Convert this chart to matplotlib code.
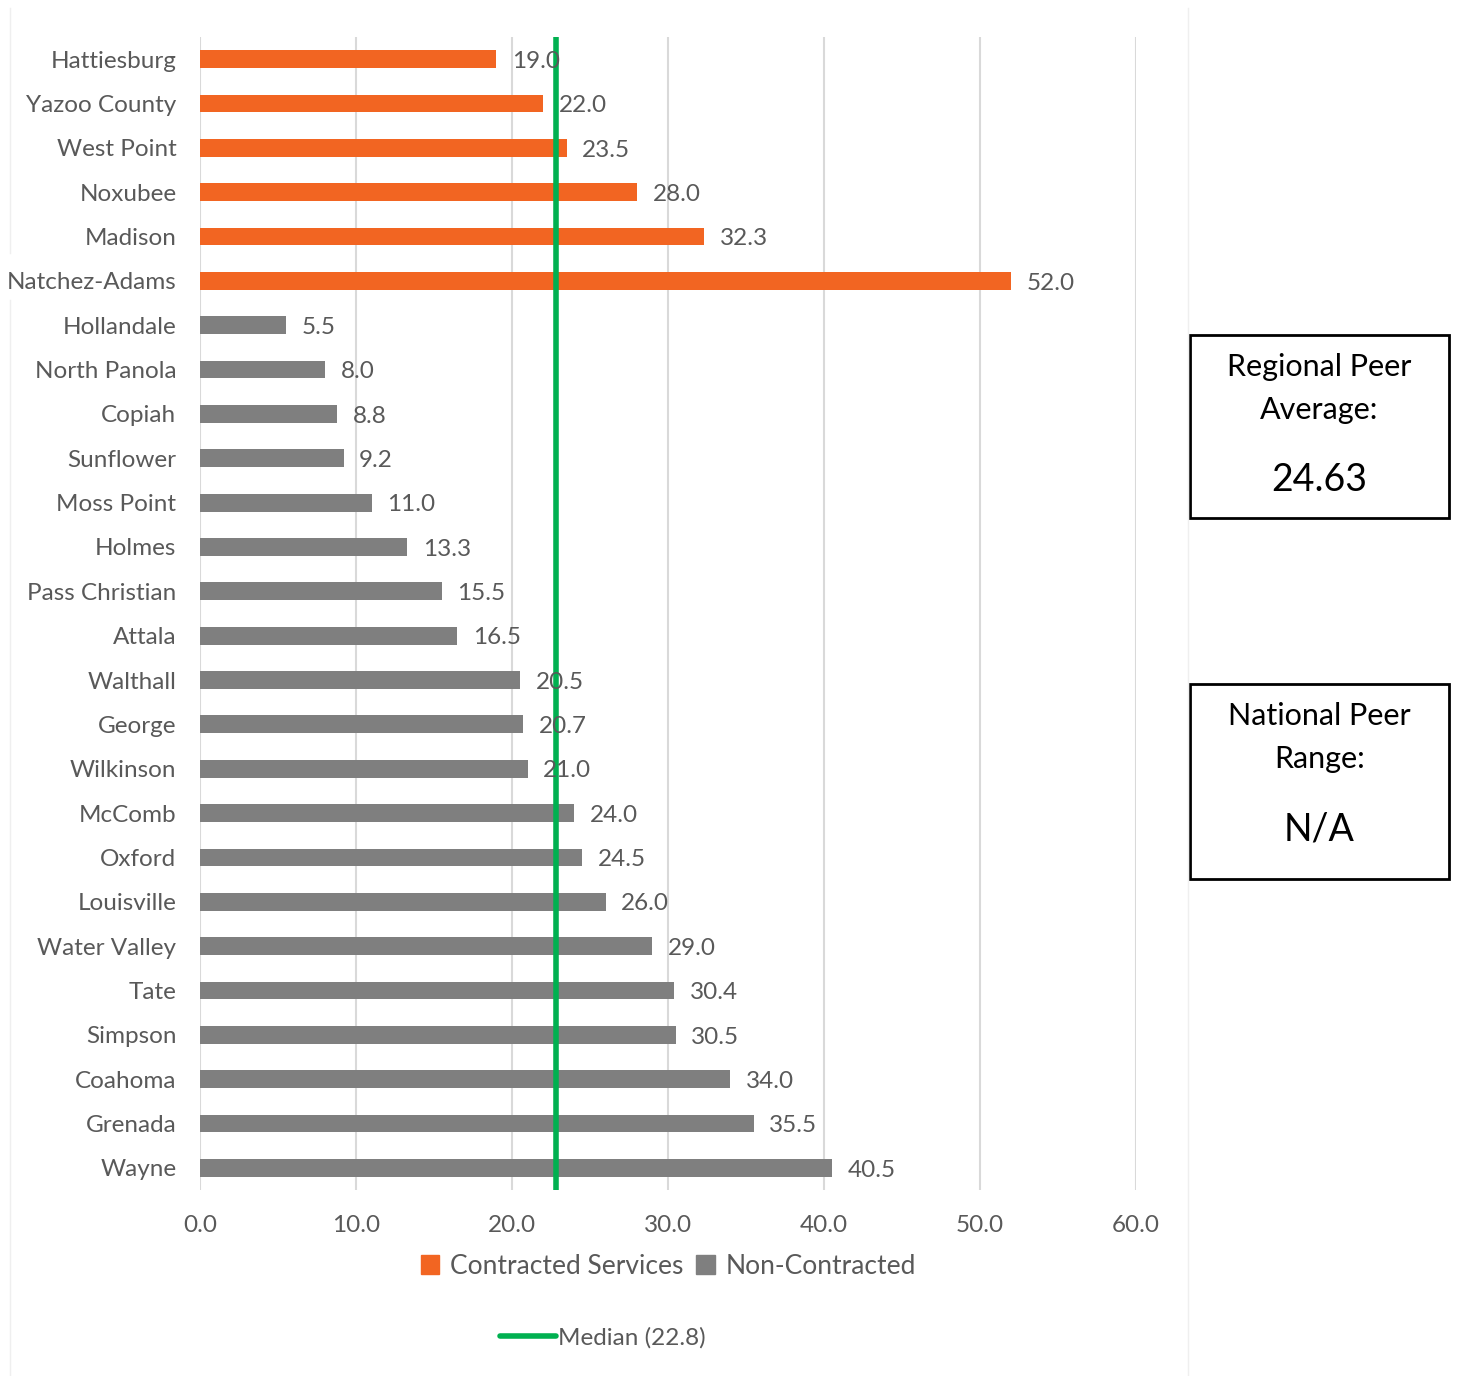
import matplotlib
matplotlib.use('Agg')
import matplotlib.pyplot as plt
from matplotlib.patches import Patch, Rectangle
from matplotlib.lines import Line2D

# Данные
cities = ['Hattiesburg', 'Yazoo County', 'West Point', 'Noxubee', 'Madison', 'Natchez-Adams',
          'Hollandale', 'North Panola', 'Copiah', 'Sunflower', 'Moss Point', 'Holmes',
          'Pass Christian', 'Attala', 'Walthall', 'George', 'Wilkinson', 'McComb', 'Oxford',
          'Louisville', 'Water Valley', 'Tate', 'Simpson', 'Coahoma', 'Grenada', 'Wayne']
values = [19.0, 22.0, 23.5, 28.0, 32.3, 52.0,
          5.5, 8.0, 8.8, 9.2, 11.0, 13.3,
          15.5, 16.5, 20.5, 20.7, 21.0, 24.0, 24.5,
          26.0, 29.0, 30.4, 30.5, 34.0, 35.5, 40.5]
contracted = [True] * 6 + [False] * 20
median = 22.8
regional_avg = '24.63'
national_range = 'N/A'
xticks = [0, 10, 20, 30, 40, 50, 60]

ORANGE = '#F26522'
GRAY = '#7F7F7F'
GREEN = '#00B050'
TEXT = '#595959'
W, H = 1459, 1376

plt.rcParams['font.family'] = ['Lato', 'DejaVu Sans']

fig = plt.figure(figsize=(W / 100, H / 100), dpi=100)
ax = fig.add_axes([200 / W, 1 - 1190 / H, 936 / W, 1153 / H])

ypos = list(range(len(cities)))
colors = [ORANGE if c else GRAY for c in contracted]
ax.barh(ypos, values, height=0.4, color=colors, zorder=2)

for y, v in zip(ypos, values):
    ax.text(v + 1.0, y + 0.05, f'{v:.1f}', va='center', ha='left', fontsize=17.5,
            color=TEXT, zorder=4)

ax.axvline(median, color=GREEN, lw=4, zorder=3)

ax.set_xlim(0, 60)
ax.set_ylim(len(cities) - 0.5, -0.5)
ax.set_yticks(ypos)
ax.set_yticklabels(cities, fontsize=17.5, color=TEXT)
ax.set_xticks(xticks)
ax.set_xticklabels([f'{t:.1f}' for t in xticks], fontsize=17.5, color=TEXT)
ax.tick_params(axis='both', length=0)
ax.tick_params(axis='y', pad=17)
ax.tick_params(axis='x', pad=18)
ax.grid(axis='x', color='#D9D9D9', lw=1.5, zorder=0)
for s in ax.spines.values():
    s.set_visible(False)

# Легенда
handles = [Patch(color=ORANGE, label='Contracted Services'),
           Patch(color=GRAY, label='Non-Contracted')]
fig.legend(handles=handles, loc='center', bbox_to_anchor=(668 / W, 1 - 1266 / H),
           ncol=2, frameon=False, fontsize=19, handlelength=0.7, handleheight=0.7,
           handletextpad=0.4, columnspacing=0.5, labelcolor=TEXT)
fig.legend(handles=[Line2D([0], [0], color=GREEN, lw=4, solid_capstyle='round',
                           label=f'Median ({median})')],
           loc='center', bbox_to_anchor=(603 / W, 1 - 1338 / H), frameon=False,
           fontsize=17.5, handlelength=2.3, handletextpad=0.1, labelcolor=TEXT)

# Рамка области диаграммы (слева с разрывом под подписью Natchez-Adams)
border = '#EFEFEF'
fig.add_artist(Line2D([10 / W, 10 / W], [1 - 253 / H, 1 - 8 / H], color=border, lw=1))
fig.add_artist(Line2D([10 / W, 10 / W], [0, 1 - 300 / H], color=border, lw=1))
fig.add_artist(Line2D([1188 / W, 1188 / W], [0, 1 - 8 / H], color=border, lw=1))

# Блоки с показателями
def info_box(y_top, y_bot, line1, line2, value):
    x0, x1 = 1190 / W, 1449 / W
    yt, yb = 1 - y_top / H, 1 - y_bot / H
    fig.add_artist(Rectangle((x0, yb), x1 - x0, yt - yb, fill=False, ec='black', lw=2,
                             transform=fig.transFigure))
    xc = (x0 + x1) / 2
    fig.text(xc, 1 - (y_top + 32) / H, line1, ha='center', va='center', fontsize=22, color='black')
    fig.text(xc, 1 - (y_top + 75) / H, line2, ha='center', va='center', fontsize=22, color='black')
    fig.text(xc, 1 - (y_top + 145) / H, value, ha='center', va='center', fontsize=27, color='black')

info_box(335, 518, 'Regional Peer', 'Average:', regional_avg)
info_box(684, 879, 'National Peer', 'Range:', national_range)

fig.savefig('out.png', dpi=100, facecolor='white')
